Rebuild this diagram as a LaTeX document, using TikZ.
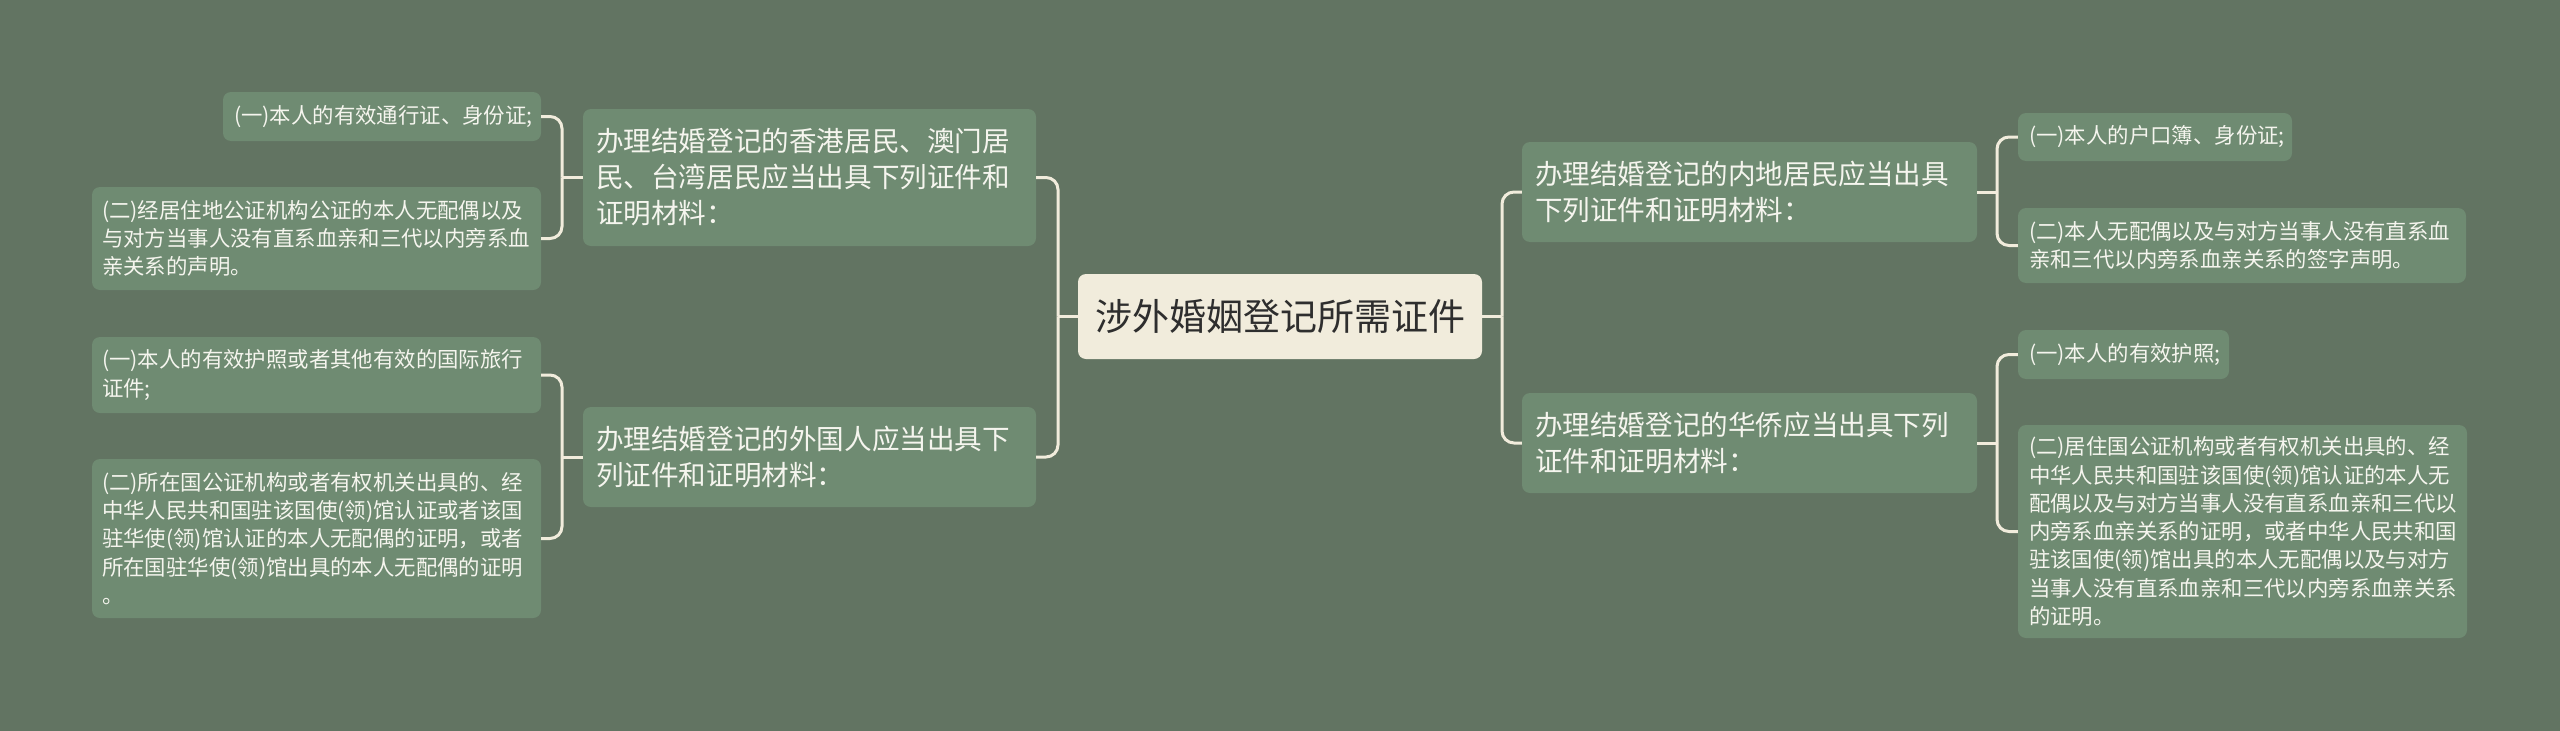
\documentclass[tikz,border=0pt]{standalone}
\usepackage{fontspec}
\newfontfamily\cjk{Noto Sans CJK SC}
\definecolor{bg}{HTML}{627462}
\definecolor{boxc}{HTML}{6F8B72}
\definecolor{cream}{HTML}{F1ECDC}
\definecolor{ctext}{HTML}{2E2E2E}
\definecolor{wtext}{HTML}{F5F5EE}
\begin{document}
\begin{tikzpicture}[x=1pt,y=-1pt,
  box/.style={rectangle, rounded corners=8pt, fill=boxc, draw=none, inner sep=0pt},
  sz/.style 2 args={minimum width=#1pt, minimum height=#2pt},
  centerbox/.style={rectangle, rounded corners=8pt, fill=cream, inner sep=0pt, text=ctext, font=\cjk\fontsize{37pt}{44pt}\selectfont},
  leaftxt/.style={inner sep=0pt, align=left, text=wtext, anchor=west, font=\cjk\fontsize{21.4pt}{28.3pt}\selectfont},
  branchtxt/.style={inner sep=0pt, align=left, text=wtext, anchor=west, font=\cjk\fontsize{27.6pt}{36pt}\selectfont},
  conn/.style={draw=cream, line width=3pt},
  elbow/.style={conn, rounded corners=12pt}]

\fill[bg] (0,0) rectangle (2560,731);
\useasboundingbox (0,0) rectangle (2560,731);

% centre
\node[centerbox, sz={404}{85}] (c) at (1280,316.5) {涉外婚姻登记所需证件};

% left branches
\node[box, sz={453}{137}] (l1) at (809.5,177.5) {};
\node[branchtxt] (l1t) at ([xshift=13pt]l1.west) {办理结婚登记的香港居民、澳门居\\民、台湾居民应当出具下列证件和\\证明材料：};
\node[box, sz={453}{100}] (l2) at (809.5,457) {};
\node[branchtxt] (l2t) at ([xshift=13pt]l2.west) {办理结婚登记的外国人应当出具下\\列证件和证明材料：};

% left leaves
\node[box, sz={318}{49}] (ll1) at (382,116.5) {};
\node[leaftxt] (ll1t) at ([xshift=11pt]ll1.west) {(一)本人的有效通行证、身份证;};
\node[box, sz={449}{103}] (ll2) at (316.5,238.5) {};
\node[leaftxt] (ll2t) at ([xshift=10pt]ll2.west) {(二)经居住地公证机构公证的本人无配偶以及\\与对方当事人没有直系血亲和三代以内旁系血\\亲关系的声明。};
\node[box, sz={449}{76}] (ll3) at (316.5,375) {};
\node[leaftxt] (ll3t) at ([xshift=10pt]ll3.west) {(一)本人的有效护照或者其他有效的国际旅行\\证件;};
\node[box, sz={449}{159}] (ll4) at (316.5,538.5) {};
\node[leaftxt] (ll4t) at ([xshift=10pt]ll4.west) {(二)所在国公证机构或者有权机关出具的、经\\中华人民共和国驻该国使(领)馆认证或者该国\\驻华使(领)馆认证的本人无配偶的证明，或者\\所在国驻华使(领)馆出具的本人无配偶的证明\\。};

% right branches
\node[box, sz={455}{100}] (r1) at (1749.5,192) {};
\node[branchtxt] (r1t) at ([xshift=13pt]r1.west) {办理结婚登记的内地居民应当出具\\下列证件和证明材料：};
\node[box, sz={455}{100}] (r2) at (1749.5,443) {};
\node[branchtxt] (r2t) at ([xshift=13pt]r2.west) {办理结婚登记的华侨应当出具下列\\证件和证明材料：};

% right leaves
\node[box, sz={274}{48}] (rl1) at (2155,137) {};
\node[leaftxt] (rl1t) at ([xshift=11pt]rl1.west) {(一)本人的户口簿、身份证;};
\node[box, sz={448}{75}] (rl2) at (2242,245.5) {};
\node[leaftxt] (rl2t) at ([xshift=11pt]rl2.west) {(二)本人无配偶以及与对方当事人没有直系血\\亲和三代以内旁系血亲关系的签字声明。};
\node[box, sz={211}{49}] (rl3) at (2123.5,354.5) {};
\node[leaftxt] (rl3t) at ([xshift=11pt]rl3.west) {(一)本人的有效护照;};
\node[box, sz={449}{213}] (rl4) at (2242.5,531.5) {};
\node[leaftxt] (rl4t) at ([xshift=11pt]rl4.west) {(二)居住国公证机构或者有权机关出具的、经\\中华人民共和国驻该国使(领)馆认证的本人无\\配偶以及与对方当事人没有直系血亲和三代以\\内旁系血亲关系的证明，或者中华人民共和国\\驻该国使(领)馆出具的本人无配偶以及与对方\\当事人没有直系血亲和三代以内旁系血亲关系\\的证明。};

% junctions
\coordinate (jcl) at (1058,316.5);
\coordinate (jcr) at (1502,316.5);
\coordinate (jl1) at (562,177.5);
\coordinate (jl2) at (562,457);
\coordinate (jr1) at (1997,192);
\coordinate (jr2) at (1997,443);

% connectors
\draw[conn] (c.west) -- (jcl);
\draw[elbow] (jcl) |- (l1.east);
\draw[elbow] (jcl) |- (l2.east);
\draw[conn] (c.east) -- (jcr);
\draw[elbow] (jcr) |- (r1.west);
\draw[elbow] (jcr) |- (r2.west);

\draw[conn] (l1.west) -- (jl1);
\draw[elbow] (jl1) |- (ll1.east);
\draw[elbow] (jl1) |- (ll2.east);
\draw[conn] (l2.west) -- (jl2);
\draw[elbow] (jl2) |- (ll3.east);
\draw[elbow] (jl2) |- (ll4.east);

\draw[conn] (r1.east) -- (jr1);
\draw[elbow] (jr1) |- (rl1.west);
\draw[elbow] (jr1) |- (rl2.west);
\draw[conn] (r2.east) -- (jr2);
\draw[elbow] (jr2) |- (rl3.west);
\draw[elbow] (jr2) |- (rl4.west);
\end{tikzpicture}
\end{document}
